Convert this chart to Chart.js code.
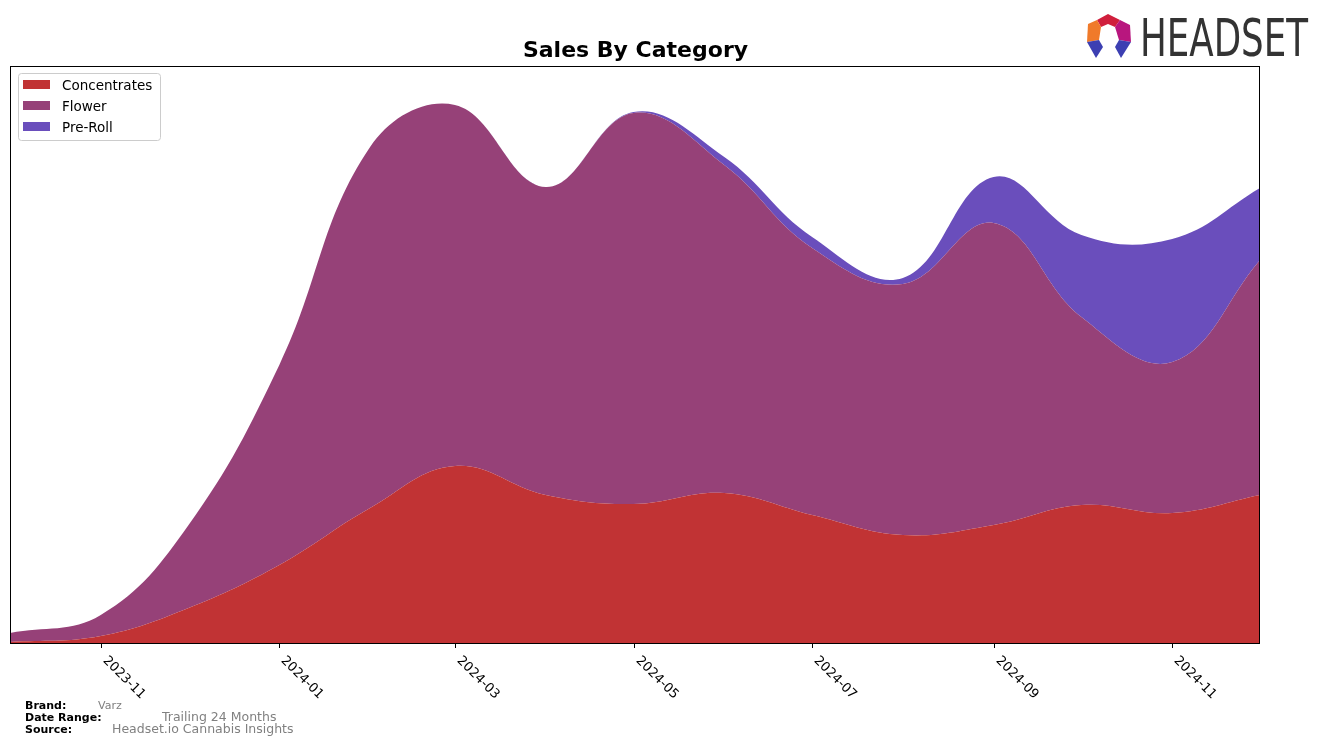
<!DOCTYPE html>
<html lang="en">
<head>
    <meta charset="UTF-8">
    <title>Sales By Category</title>
    <script src="https://cdn.jsdelivr.net/npm/chart.js@4.4.1/dist/chart.umd.min.js"></script>
    <style>
        html, body { margin: 0; padding: 0; background: #fff; }
        #wrap { position: relative; width: 1324px; height: 745px; }
        .meta { position: absolute; font-family: "DejaVu Sans", sans-serif; white-space: nowrap; }
        .meta b { font-size: 11px; color: #000; }
        .meta span { color: #808080; }
    </style>
</head>
<body>
<div id="wrap">
    <canvas id="salesChart" width="1324" height="745"></canvas>

    <!-- pie de pagina -->
    <div class="meta" style="left:25px; top:694px;"><b>Brand:</b></div>
    <div class="meta" style="left:98px; top:694px;"><span style="font-size:11px;">Varz</span></div>
    <div class="meta" style="left:25px; top:706px;"><b>Date Range:</b></div>
    <div class="meta" style="left:162px; top:706px;"><span style="font-size:12.5px;">Trailing 24 Months</span></div>
    <div class="meta" style="left:25px; top:718px;"><b>Source:</b></div>
    <div class="meta" style="left:112px; top:718px;"><span style="font-size:12.5px;">Headset.io Cannabis Insights</span></div>
</div>

<script>
    // meses (primer dia de cada mes)
    const months = ['2023-10', '2023-11', '2023-12', '2024-01', '2024-02', '2024-03', '2024-04',
                    '2024-05', '2024-06', '2024-07', '2024-08', '2024-09', '2024-10', '2024-11', '2024-12'];

    const concentrates = [1, 7, 35, 78, 135, 177, 148, 139, 150, 128, 108, 118, 138, 130, 148];
    const flower       = [9, 21, 83, 200, 361, 361, 308, 391, 328, 267, 251, 302, 188, 151, 235];
    const preRoll      = [0, 0, 0, 0, 0, 0, 0, 1, 8, 11, 6, 46, 82, 123, 72];

    const tickLabels = ['2023-11', '2024-01', '2024-03', '2024-05', '2024-07', '2024-09', '2024-11'];

    function toTime(m) {
        const p = m.split('-');
        return Date.UTC(+p[0], +p[1] - 1, 1);
    }

    function points(values) {
        return values.map((v, i) => ({ x: toTime(months[i]), y: v }));
    }

    const colors = {
        concentrates: '#c13334',
        flower: '#964178',
        preRoll: '#6a4ebc'
    };

    const legendItems = [
        { label: 'Concentrates', color: colors.concentrates },
        { label: 'Flower', color: colors.flower },
        { label: 'Pre-Roll', color: colors.preRoll }
    ];

    // dibuja marco, ticks, leyenda, titulo y logo
    const decorations = {
        id: 'decorations',
        afterDraw(chart) {
            const ctx = chart.ctx;
            const area = chart.chartArea;
            const xScale = chart.scales.x;

            ctx.save();

            // marco
            ctx.strokeStyle = '#000';
            ctx.lineWidth = 1;
            ctx.strokeRect(area.left + 0.5, area.top + 0.5, area.right - area.left - 1, area.bottom - area.top);

            // ticks del eje x
            ctx.fillStyle = '#000';
            ctx.font = '13px "DejaVu Sans"';
            ctx.textAlign = 'left';
            ctx.textBaseline = 'top';
            tickLabels.forEach(lbl => {
                const x = Math.round(xScale.getPixelForValue(toTime(lbl))) + 0.5;
                ctx.beginPath();
                ctx.moveTo(x, area.bottom);
                ctx.lineTo(x, area.bottom + 5);
                ctx.stroke();

                ctx.save();
                ctx.translate(x + 8, area.bottom + 11);
                ctx.rotate(Math.PI / 4);
                ctx.fillText(lbl, 0, 0);
                ctx.restore();
            });

            // titulo
            ctx.font = 'bold 22px "DejaVu Sans"';
            ctx.textAlign = 'center';
            ctx.textBaseline = 'alphabetic';
            ctx.fillText('Sales By Category', (area.left + area.right) / 2 + 0.5, 57);

            // leyenda
            const lx = 18, ly = 73, lw = 142, lh = 67;
            ctx.fillStyle = 'rgba(255,255,255,0.8)';
            ctx.strokeStyle = '#cccccc';
            ctx.beginPath();
            ctx.roundRect(lx + 0.5, ly + 0.5, lw, lh, 3);
            ctx.fill();
            ctx.stroke();
            ctx.font = '13.5px "DejaVu Sans"';
            ctx.textAlign = 'left';
            ctx.textBaseline = 'middle';
            legendItems.forEach((item, i) => {
                const cy = 85 + i * 21;
                ctx.fillStyle = item.color;
                ctx.fillRect(23, cy - 5, 27, 9);
                ctx.fillStyle = '#000';
                ctx.fillText(item.label, 62, cy + 1.5);
            });

            // logo
            const shapes = [
                { c: '#d01f3c', p: [[1097, 20], [1108, 14], [1120, 20], [1115, 27], [1108, 24], [1101, 27]] },
                { c: '#f07a2a', p: [[1097, 20], [1101, 27], [1099, 40], [1087, 42], [1088, 24]] },
                { c: '#b8167e', p: [[1120, 20], [1130, 25], [1131, 42], [1119, 40], [1115, 27]] },
                { c: '#3c3fb2', p: [[1087, 42], [1099, 40], [1103, 47], [1096, 58]] },
                { c: '#3c3fb2', p: [[1119, 40], [1131, 42], [1121, 58], [1115, 47]] }
            ];
            shapes.forEach(s => {
                ctx.fillStyle = s.c;
                ctx.beginPath();
                s.p.forEach((pt, i) => i ? ctx.lineTo(pt[0], pt[1]) : ctx.moveTo(pt[0], pt[1]));
                ctx.closePath();
                ctx.fill();
            });
            ctx.fillStyle = '#333333';
            ctx.font = '52px "DejaVu Sans"';
            ctx.textAlign = 'left';
            ctx.textBaseline = 'alphabetic';
            const w = ctx.measureText('HEADSET').width;
            ctx.save();
            ctx.translate(1140, 56);
            ctx.scale(168 / w, 1);
            ctx.fillText('HEADSET', 0, 0);
            ctx.restore();

            ctx.restore();
        }
    };

    const ctx = document.getElementById('salesChart').getContext('2d');

    const data = {
        datasets: [
            {
                label: 'Concentrates',
                data: points(concentrates),
                backgroundColor: colors.concentrates,
                borderColor: colors.concentrates,
                fill: 'origin'
            },
            {
                label: 'Flower',
                data: points(flower),
                backgroundColor: colors.flower,
                borderColor: colors.flower,
                fill: '-1'
            },
            {
                label: 'Pre-Roll',
                data: points(preRoll),
                backgroundColor: colors.preRoll,
                borderColor: colors.preRoll,
                fill: '-1'
            }
        ]
    };

    const config = {
        type: 'line',
        data: data,
        options: {
            responsive: false,
            devicePixelRatio: 1,
            animation: false,
            layout: { padding: { left: 10, top: 66, right: 64, bottom: 102 } },
            elements: {
                line: { tension: 0.4, borderWidth: 0 },
                point: { radius: 0 }
            },
            plugins: {
                legend: { display: false },
                title: { display: false },
                tooltip: { enabled: false }
            },
            scales: {
                x: {
                    type: 'linear',
                    display: false,
                    min: toTime(months[0]),
                    max: toTime(months[months.length - 1])
                },
                y: {
                    display: false,
                    stacked: true,
                    min: 0,
                    max: 577
                }
            }
        },
        plugins: [decorations]
    };

    const salesChart = new Chart(ctx, config);
</script>
</body>
</html>
